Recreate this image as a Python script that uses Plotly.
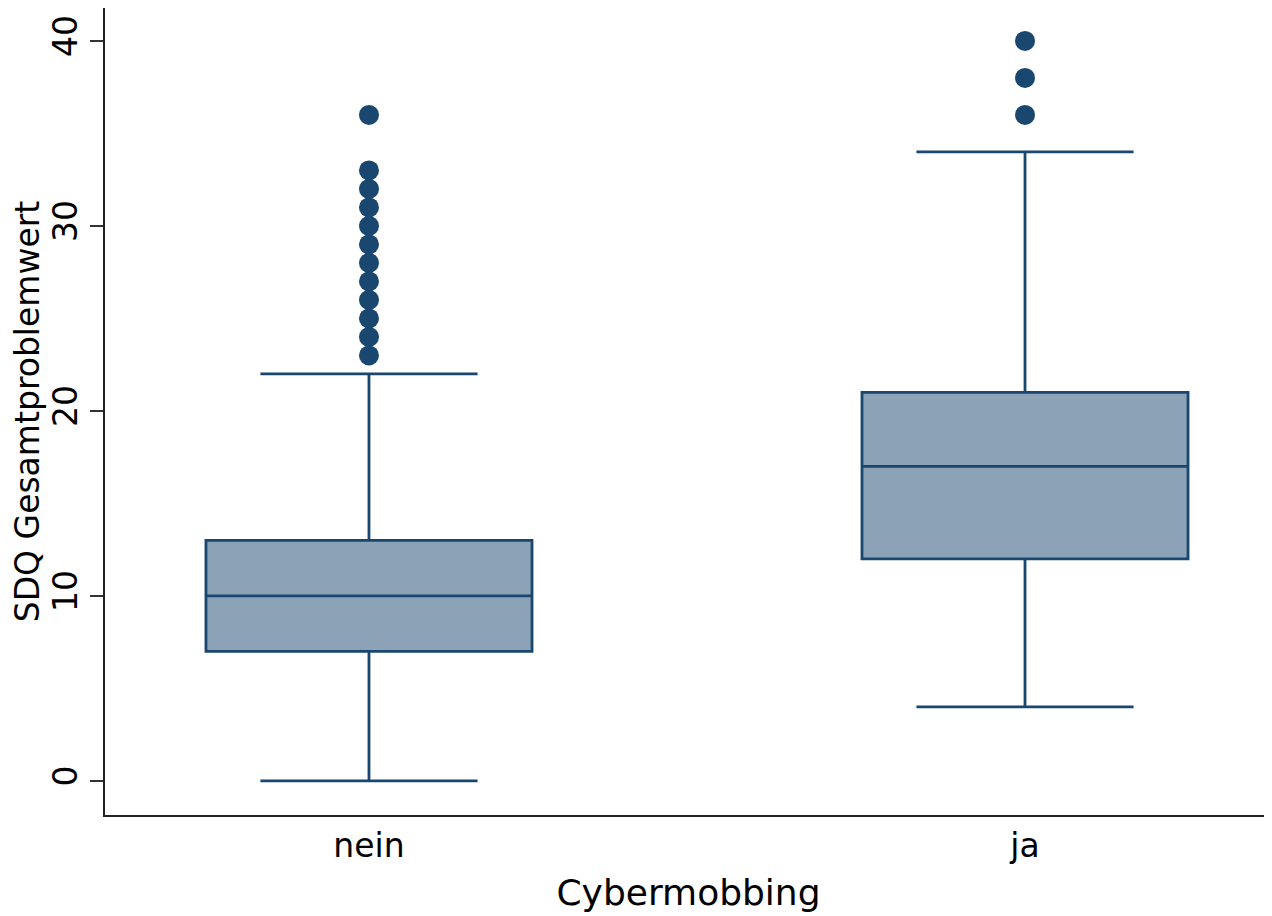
import plotly.graph_objects as go

# Summary stats
groups = ["nein", "ja"]
q1 = [7, 12]
median = [10, 17]
q3 = [13, 21]
lower_fence = [0, 4]
upper_fence = [22, 34]

outliers_nein = [23, 24, 25, 26, 27, 28, 29, 30, 31, 32, 33, 36]
outliers_ja = [36, 38, 40]

navy = "#1a476f"
fill = "#8ca3b7"

fig = go.Figure()

fig.add_trace(go.Box(
    x=groups,
    q1=q1,
    median=median,
    q3=q3,
    lowerfence=lower_fence,
    upperfence=upper_fence,
    width=0.497,
    whiskerwidth=0.666,
    fillcolor=fill,
    line=dict(color=navy, width=2.8),
    boxpoints=False,
    hoverinfo="skip",
))

# outliers
fig.add_trace(go.Scatter(
    x=["nein"] * len(outliers_nein) + ["ja"] * len(outliers_ja),
    y=outliers_nein + outliers_ja,
    mode="markers",
    marker=dict(color=navy, size=20, line=dict(width=0)),
))

# page body adds an 8px offset, so the figure is sized for that
fig.update_layout(
    width=1264,
    height=908,
    showlegend=False,
    plot_bgcolor="white",
    paper_bgcolor="white",
    margin=dict(l=97, r=0, t=0, b=101),
    font=dict(family="DejaVu Sans", size=33, color="black"),
)

fig.update_xaxes(
    type="category",
    categoryorder="array",
    categoryarray=groups,
    range=[-0.4024, 1.3765],
    showline=True,
    linecolor="#222222",
    linewidth=2,
    ticks="",
    showgrid=False,
    zeroline=False,
    tickfont=dict(size=33),
    title=dict(text="Cybermobbing", font=dict(size=36), standoff=16),
)

fig.update_yaxes(
    range=[-1.84, 41.78],
    tickvals=[0, 10, 20, 30, 40],
    tickangle=-90,
    showline=True,
    linecolor="#222222",
    linewidth=2,
    ticks="outside",
    ticklen=13,
    tickwidth=2,
    tickcolor="#333333",
    showgrid=False,
    zeroline=False,
    tickfont=dict(size=33),
    title=dict(text="SDQ Gesamtproblemwert", font=dict(size=33), standoff=3),
)

fig.write_html("out.html")
